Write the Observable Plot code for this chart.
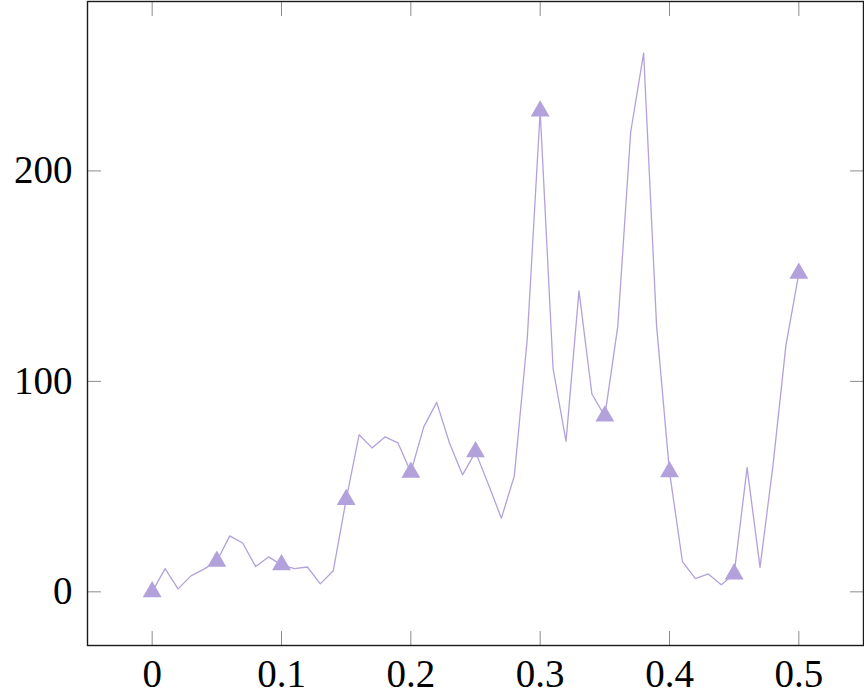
<!DOCTYPE html>
<html>
<head>
<meta charset="utf-8">
<script src="https://cdn.jsdelivr.net/npm/d3@7"></script>
<script src="https://cdn.jsdelivr.net/npm/@observablehq/plot@0.6"></script>
<style>
  html, body { margin: 0; padding: 0; background: #fff; }
  #chart { width: 864px; height: 699px; }
</style>
</head>
<body>
<div id="chart"></div>
<script>
const xValues = [
  0.00, 0.01, 0.02, 0.03, 0.04, 0.05, 0.06, 0.07, 0.08, 0.09,
  0.10, 0.11, 0.12, 0.13, 0.14, 0.15, 0.16, 0.17, 0.18, 0.19,
  0.20, 0.21, 0.22, 0.23, 0.24, 0.25, 0.26, 0.27, 0.28, 0.29,
  0.30, 0.31, 0.32, 0.33, 0.34, 0.35, 0.36, 0.37, 0.38, 0.39,
  0.40, 0.41, 0.42, 0.43, 0.44, 0.45, 0.46, 0.47, 0.48, 0.49,
  0.50
];
const yValues = [
  0, 11, 1.4, 7.6, 10.8, 14.5, 26.6, 23.2, 12, 16.6,
  12.8, 11, 11.8, 3.8, 10, 43.8, 74.6, 68.4, 73.6, 70.8,
  56.8, 78.4, 90, 70.5, 55.6, 66.5, 51, 35, 55, 120,
  228.4, 106, 71.5, 143, 94, 83.5, 126, 218.5, 256, 126.5,
  57, 14.4, 6.3, 8.5, 3.4, 8.5, 59, 11.6, 60, 117,
  151.3
];
const markerEvery = 5;
const xTicks = [0, 0.1, 0.2, 0.3, 0.4, 0.5];
const xTickLabels = ["0", "0.1", "0.2", "0.3", "0.4", "0.5"];
const yTicks = [0, 100, 200];
const yTickLabels = ["0", "100", "200"];

const data = xValues.map((x, i) => ({x, y: yValues[i], i}));
const markers = data.filter(d => d.i % markerEvery === 0);

const color = "#b3a1dc";
const tickColor = "#8c8c8c";

const chart = Plot.plot({
  width: 864,
  height: 699,
  marginLeft: 87,
  marginRight: 1,
  marginTop: 1,
  marginBottom: 54,
  style: {fontFamily: "'Liberation Serif', 'DejaVu Serif', serif", fontSize: "39px", color: "black", background: "white"},
  x: {domain: [-0.05, 0.55]},
  y: {domain: [-25.5, 280.5]},
  marks: [
    Plot.axisX(xTicks, {anchor: "bottom", tickSize: 0, tickPadding: 14, tickFormat: (d, i) => xTickLabels[i], fill: "black", label: null}),
    Plot.axisY(yTicks, {anchor: "left", tickSize: 0, tickPadding: 15, tickFormat: (d, i) => yTickLabels[i], fill: "black", label: null}),
    Plot.axisX(xTicks, {anchor: "bottom", tickSize: -14, text: null, stroke: tickColor, strokeWidth: 1, label: null}),
    Plot.axisX(xTicks, {anchor: "top", tickSize: -14, text: null, stroke: tickColor, strokeWidth: 1, label: null}),
    Plot.axisY(yTicks, {anchor: "left", tickSize: -14, text: null, stroke: tickColor, strokeWidth: 1, label: null}),
    Plot.axisY(yTicks, {anchor: "right", tickSize: -14, text: null, stroke: tickColor, strokeWidth: 1, label: null}),
    Plot.line(data, {x: "x", y: "y", stroke: color, strokeWidth: 1.3}),
    Plot.dot(markers, {x: "x", y: "y", symbol: "triangle", r: 7, fill: color, stroke: "none"}),
    Plot.frame({stroke: "#1a1a1a", strokeWidth: 1.4})
  ]
});
document.getElementById("chart").appendChild(chart);
</script>
</body>
</html>
